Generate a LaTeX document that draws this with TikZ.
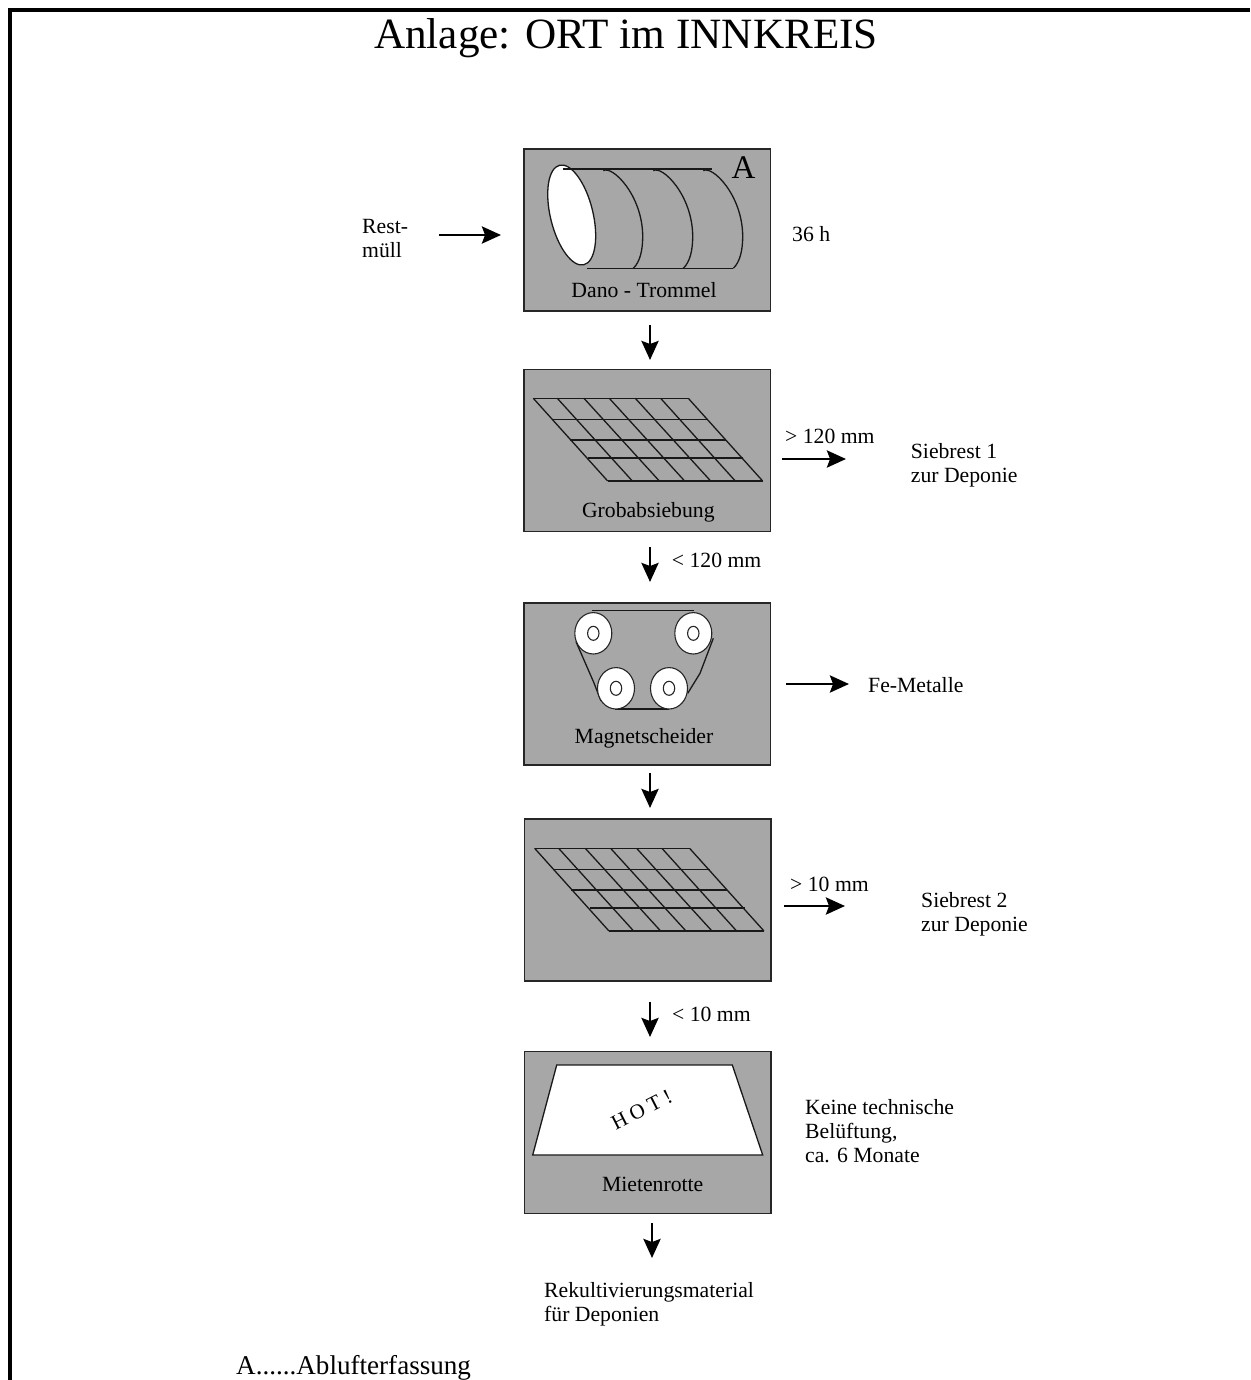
\documentclass[tikz,border=0pt]{standalone}
\usepackage{fontspec}
\setmainfont{Liberation Serif}
\usetikzlibrary{arrows.meta}
\tikzset{
  stagebox/.style={draw=black!85,line width=1.1pt,fill=boxgray,minimum width=246.5pt,minimum height=162pt,inner sep=0pt},
  txt/.style={inner sep=0pt,anchor=base west,align=left,font=\fontsize{21.7}{24}\selectfont},
  boxtxt/.style={inner sep=0pt,anchor=base,font=\fontsize{21.7}{24}\selectfont},
  flow/.style={line width=2.9pt,-{Stealth[length=19pt,width=17pt,inset=3pt]}},
  fine/.style={line width=1.3pt,black!90},
  wheel/.style={draw=black!85,line width=1.1pt,fill=white},
}
\definecolor{boxgray}{HTML}{A7A7A7}
\begin{document}
\begin{tikzpicture}[x=1pt,y=-1pt]
\useasboundingbox (0,0) rectangle (1250,1380);
% frame
\fill[black] (8,8) rectangle (1250,12);
\fill[black] (8,8) rectangle (12,1380);
\node[inner sep=0pt,font=\fontsize{43.2}{48}\selectfont,anchor=base] (title) at (626,49) {Anlage: ORT im INNKREIS};
% boxes
\node[stagebox] (b1) at (647.2,230) {};
\node[stagebox] (b2) at (647.2,450.5) {};
\node[stagebox] (b3) at (647.2,684) {};
\node[stagebox] (b4) at (647.7,900) {};
\node[stagebox] (b5) at (647.7,1132.5) {};
% drum
\draw[fine] (586.7,268.3) -- (733.3,268.3);
\foreach \dx in {0,50,100}{
  \draw[fine,xshift=\dx pt] (603.3,170.7) .. controls (612,165) and (642.7,195) .. (642.7,236.7)
     .. controls (642.7,250) and (640,262) .. (633.3,268.3);
}
\draw[fine,fill=white,rotate around={13.7:(571.7,215)}] (571.7,215) ellipse [x radius=21.3,y radius=51.2];
\draw[fine] (563.3,169) -- (711.7,169);
\node[inner sep=0pt,font=\fontsize{33}{36}\selectfont,anchor=base] (lblA) at (743.5,179) {A};
\node[boxtxt] (t1) at (644,297) {Dano - Trommel};
% grids
\foreach \sx/\sy/\gn in {520/360/a,521.3/810/b}{
  \begin{scope}[shift={(\sx,\sy)},x=0.3333pt,y=-0.3333pt]
    \foreach \ya/\xa/\xb in {115/40/505,178/97/565,240/150/617,294/205/670,363/263/728}
      \draw[fine] (\xa,\ya) -- (\xb,\ya);
    \foreach \xa/\xb in {40/263,112/337,192/418,268/494,346/572,422/646,505/728}
      \draw[fine] (\xa,115) -- (\xb,363);
  \end{scope}
}
\node[boxtxt] (t2) at (648.3,517) {Grobabsiebung};
% magnetic separator
\draw[fine] (591.7,610.7) -- (694.3,610.7);
\draw[fine] (615,709) -- (669,709);
\draw[fine] (576,641.7) -- (593.7,682.3) -- (601,701);
\draw[fine] (713.3,638.3) -- (700,673.3) -- (687.7,693.3);
\foreach \cx/\cy in {593.3/633.3,693.3/633.3,616/688.3,669/688.3}{
  \draw[wheel] (\cx,\cy) ellipse [x radius=18.5,y radius=20.7];
  \draw[wheel] (\cx,\cy) ellipse [x radius=5.7,y radius=7];
}
\node[boxtxt] (t3) at (644,743) {Magnetscheider};
% windrow
\draw[fine,fill=white] (556.7,1065) -- (732.3,1065) -- (762.7,1155) -- (532.7,1155) -- cycle;
\node[inner sep=0pt,rotate=27,font=\fontsize{21}{24}\selectfont] (hot) at (641.7,1110) {\spaceskip=5pt H O T !};
\node[boxtxt] (t5) at (652.7,1191) {Mietenrotte};
% arrow ends
\coordinate (i1) at (439,235);   \coordinate (i2) at (501,235);
\coordinate (d1a) at (650,325);  \coordinate (d1b) at (650,360);
\coordinate (d2a) at (650,547);  \coordinate (d2b) at (650,582);
\coordinate (d3a) at (650,773);  \coordinate (d3b) at (650,808);
\coordinate (d4a) at (650,1002); \coordinate (d4b) at (650,1037);
\coordinate (d5a) at (652,1223); \coordinate (d5b) at (652,1258);
\coordinate (o1a) at (782,459);  \coordinate (o1b) at (846,459);
\coordinate (o2a) at (786,684);  \coordinate (o2b) at (849,684);
\coordinate (o3a) at (784,906);  \coordinate (o3b) at (845,906);
\draw[flow] (i1) -- (i2);
\draw[flow] (d1a) -- (d1b);
\draw[flow] (d2a) -- (d2b);
\draw[flow] (d3a) -- (d3b);
\draw[flow] (d4a) -- (d4b);
\draw[flow] (d5a) -- (d5b);
\draw[flow] (o1a) -- (o1b);
\draw[flow] (o2a) -- (o2b);
\draw[flow] (o3a) -- (o3b);
% labels
\node[txt] (l1) at (362,234) {Rest-};
\node[txt] (l1b) at (362,258) {müll};
\node[txt] (l2) at (792,241) {36 h};
\node[txt] (l3) at (785,443) {> 120 mm};
\node[txt] (l4) at (910.7,458) {Siebrest 1};
\node[txt] (l4b) at (910.7,482) {zur Deponie};
\node[txt] (l5) at (671.7,567) {< 120 mm};
\node[txt] (l6) at (868,692) {Fe-Metalle};
\node[txt] (l7) at (790,891) {> 10 mm};
\node[txt] (l8) at (921,907) {Siebrest 2};
\node[txt] (l8b) at (921,931) {zur Deponie};
\node[txt] (l9) at (672,1021) {< 10 mm};
\node[txt] (l10) at (805,1114) {Keine technische};
\node[txt] (l10b) at (805,1138) {Belüftung,};
\node[txt] (l10c) at (805,1162) {ca. 6 Monate};
\node[txt] (l11) at (544,1297) {Rekultivierungsmaterial};
\node[txt] (l11b) at (544,1321) {für Deponien};
\node[inner sep=0pt,anchor=base west,font=\fontsize{27.1}{30}\selectfont] (l12) at (236,1374) {A......Ablufterfassung};
\end{tikzpicture}
\end{document}
